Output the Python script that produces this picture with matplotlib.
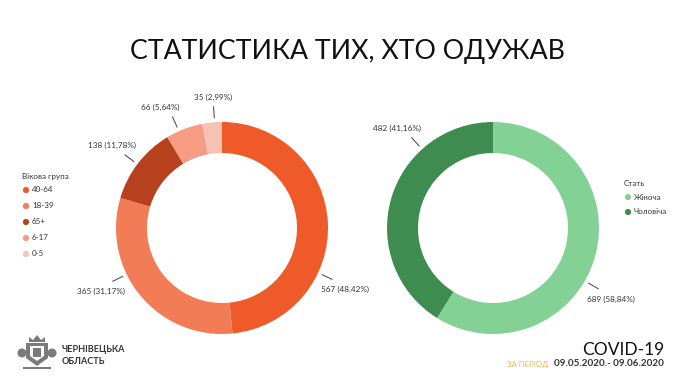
import matplotlib
matplotlib.use("Agg")
import matplotlib.pyplot as plt
import numpy as np
from matplotlib.patches import Polygon, Circle, Rectangle

plt.rcParams['font.family'] = ['Lato', 'DejaVu Sans']

# ---------------- data ----------------
title = "СТАТИСТИКА ТИХ, ХТО ОДУЖАВ"
age_title = "Вікова група"
age_groups = ["40-64", "18-39", "65+", "6-17", "0-5"]
age_values = [567, 365, 138, 66, 35]
age_pct = ["48,42%", "31,17%", "11,78%", "5,64%", "2,99%"]
age_colors = ["#EE5A2A", "#F27C55", "#B7411D", "#F59C82", "#F8C2B3"]

sex_title = "Стать"
sex_groups = ["Жіноча", "Чоловіча"]
sex_values = [689, 482]
sex_pct = ["58,84%", "41,16%"]
sex_colors = ["#84D196", "#3F8C51"]

region_lines = ["ЧЕРНІВЕЦЬКА", "ОБЛАСТЬ"]
covid_label = "COVID-19"
period_label = "ЗА ПЕРІОД"
period_dates = "09.05.2020.- 09.06.2020"

# ---------------- layout (pixels, y from top) ----------------
W, H = 690, 388
fig = plt.figure(figsize=(W / 100, H / 100), dpi=100)
ax = fig.add_axes([0, 0, 1, 1])

def Y(y):
    return H - y

R = 106
RING = 31
left_c = (222, 228)
right_c = (493, 228)
# label leader-line angles (degrees, math convention)
age_label_angles = [-25, 206, 143, 114, 94]
sex_label_angles = [-30, 132]

def donut(center, values, colors):
    ax.pie(values, colors=colors, startangle=90, counterclock=False,
           center=(center[0], Y(center[1])), radius=R, frame=True,
           wedgeprops=dict(width=RING, linewidth=0))

def labels(center, values, pcts, angles):
    cx, cy = center[0], Y(center[1])
    for v, p, a in zip(values, pcts, angles):
        t = np.deg2rad(a)
        r1, r2 = R + 4, R + 16
        x1, y1 = cx + r1 * np.cos(t), cy + r1 * np.sin(t)
        x2, y2 = cx + r2 * np.cos(t), cy + r2 * np.sin(t)
        ax.plot([x1, x2], [y1, y2], color="#555555", lw=0.8, solid_capstyle="butt")
        c = np.cos(t)
        if abs(c) < 0.2:
            ha, tx = "center", x2
        elif c > 0:
            ha, tx = "left", x1 - 1
        else:
            ha, tx = "right", x1 + 2
        ty = y2 + 9 if np.sin(t) > 0 else y2 - 10
        ax.text(tx, ty, f"{v} ({p})", ha=ha, va="center", fontsize=5.9, color="#333333")

donut(left_c, age_values, age_colors)
donut(right_c, sex_values, sex_colors)
labels(left_c, age_values, age_pct, age_label_angles)
labels(right_c, sex_values, sex_pct, sex_label_angles)

# title
ax.text(348, Y(52), title, ha="center", va="center", fontsize=19.3, color="#111111")

# legends
def legend(x, y0, head, names, colors, step):
    ax.text(x - 4, Y(y0), head, ha="left", va="center", fontsize=5.8, color="#333333")
    for i, (n, c) in enumerate(zip(names, colors)):
        yy = Y(y0 + 14 + i * step)
        ax.scatter([x], [yy], s=20, color=c, edgecolors="none", zorder=3)
        ax.text(x + 6, yy, n, ha="left", va="center", fontsize=5.8, color="#333333")

legend(26, 176, age_title, age_groups, age_colors, 16)
legend(628, 183, sex_title, sex_groups, sex_colors, 15)

# emblem (simple stylised coat of arms)
g = "#7a7a7a"
ex, ey = 37, 352
ax.add_patch(Polygon([(ex - 11, Y(ey - 9)), (ex + 11, Y(ey - 9)), (ex + 11, Y(ey + 6)),
                      (ex, Y(ey + 14)), (ex - 11, Y(ey + 6))], closed=True, color=g, lw=0))
ax.add_patch(Polygon([(ex - 7, Y(ey - 6)), (ex + 7, Y(ey - 6)), (ex + 7, Y(ey + 4)),
                      (ex, Y(ey + 9)), (ex - 7, Y(ey + 4))], closed=True, color="white", lw=0))
ax.add_patch(Rectangle((ex - 4, Y(ey + 5)), 8, 9, color=g, lw=0))
ax.add_patch(Polygon([(ex - 8, Y(ey - 10)), (ex - 8, Y(ey - 15)), (ex - 4, Y(ey - 12)),
                      (ex, Y(ey - 17)), (ex + 4, Y(ey - 12)), (ex + 8, Y(ey - 15)),
                      (ex + 8, Y(ey - 10))], closed=True, color=g, lw=0))
ax.add_patch(Circle((ex - 15, Y(ey + 1)), 4.5, color=g, lw=0))
ax.add_patch(Circle((ex + 15, Y(ey + 1)), 4.5, color=g, lw=0))
ax.add_patch(Rectangle((ex - 14, Y(ey + 17)), 28, 2.5, color=g, lw=0))

ax.text(62, Y(349), region_lines[0], ha="left", va="center", fontsize=6.6,
        fontweight="bold", color="#333333")
ax.text(62, Y(361), region_lines[1], ha="left", va="center", fontsize=6.6,
        fontweight="bold", color="#333333")

# bottom-right
ax.text(664, Y(350), covid_label, ha="right", va="center", fontsize=12.5, color="#111111")
ax.text(664, Y(364), period_dates, ha="right", va="center", fontsize=7.1,
        fontweight="bold", color="#333333")
ax.text(548, Y(364), period_label, ha="right", va="center", fontsize=5.6, color="#F0B355")

ax.set_xlim(0, W)
ax.set_ylim(0, H)
ax.set_aspect("auto")
ax.axis("off")

fig.savefig("out.png", dpi=100, facecolor="white")
